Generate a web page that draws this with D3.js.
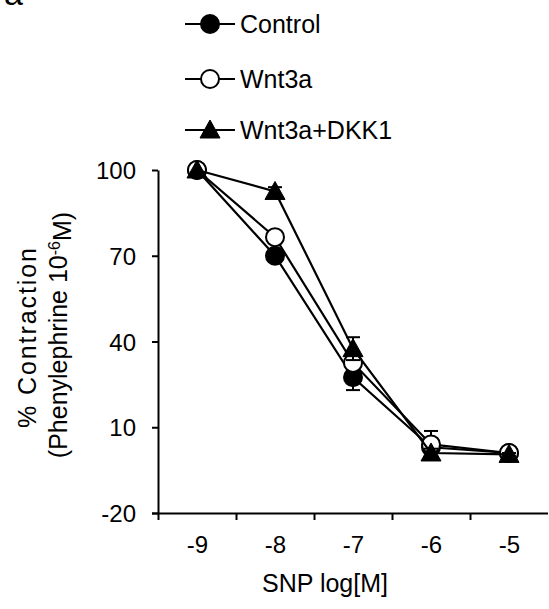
<!DOCTYPE html>
<html>
<head>
<meta charset="utf-8">
<script src="https://cdn.jsdelivr.net/npm/d3@7"></script>
<style>
  body { margin: 0; background: #fff; }
  text { font-family: Arial, "Liberation Sans", sans-serif; fill: #000; }
</style>
</head>
<body>
<div id="chart"></div>
<script>
// data
const doses = [-9, -8, -7, -6, -5];
const yTicks = [-20, 10, 40, 70, 100];
const seriesNames = ["Control", "Wnt3a", "Wnt3a+DKK1"];
const controlVals = [100, 70, 27.5, 3, 1];
const controlErr = [0, 1.5, 4.5, 2, 0.5];
const wntVals = [100, 76.5, 32.5, 4, 1];
const wntErr = [0, 1.5, 3, 4.7, 0.5];
const dkkVals = [100, 92.5, 37.5, 1, 0.5];
const dkkErr = [0, 1.5, 4, 1.5, 0.5];

const width = 549, height = 609;

let svg = d3.select("#chart")
    .append("svg")
    .attr("width", width)
    .attr("height", height);

let x = d3.scaleLinear().domain([-9.5, -4.5]).range([158, 548]);
let y = d3.scaleLinear().domain([-20, 100]).range([513, 170]);

// plain hyphen for negatives, like the original figure
let plain = d => String(d);

// y axis
let yAxis = svg.append("g")
    .attr("transform", "translate(158,0)")
    .call(d3.axisLeft(y).tickValues(yTicks).tickSize(6).tickSizeOuter(0).tickPadding(16).tickFormat(plain));
yAxis.select(".domain").attr("stroke-width", 2);
yAxis.selectAll(".tick line").attr("stroke-width", 2);
yAxis.selectAll("text").style("font-size", "24px").attr("dy", "0.36em");

// x axis: ticks between the dose groups, labels at the doses
let xAxis = svg.append("g")
    .attr("transform", "translate(0,513)")
    .call(d3.axisBottom(x).tickValues(doses.map(d => d - 0.5)).tickSize(7).tickSizeOuter(0).tickFormat(""));
xAxis.select(".domain").attr("d", "M152,0.5H548").attr("stroke-width", 2);
xAxis.selectAll(".tick line").attr("stroke-width", 2);

let xLabels = svg.append("g")
    .attr("transform", "translate(0,513)")
    .call(d3.axisBottom(x).tickValues(doses).tickSize(0).tickPadding(23).tickFormat(plain));
xLabels.select(".domain").remove();
xLabels.selectAll("text").style("font-size", "24px");

// axis titles
svg.append("text")
    .attr("x", 325).attr("y", 592)
    .style("text-anchor", "middle")
    .style("font-size", "25px")
    .text("SNP log[M]");

svg.append("text")
    .attr("transform", "translate(36,338) rotate(-90)")
    .style("text-anchor", "middle")
    .style("font-size", "25px")
    .attr("textLength", 180)
    .attr("lengthAdjust", "spacing")
    .text("% Contraction");

let t2 = svg.append("text")
    .attr("transform", "translate(67,335) rotate(-90)")
    .style("text-anchor", "middle")
    .style("font-size", "25px");
t2.append("tspan").text("(Phenylephrine 10");
t2.append("tspan").attr("dy", "-0.45em").style("font-size", "16px").text("-6");
t2.append("tspan").attr("dy", "0.45em").text("M)");

// panel letter, cut at the top edge as in the original
svg.append("text")
    .attr("x", 4).attr("y", 5)
    .style("font-size", "34px")
    .text("a");

let series = [
  {name: seriesNames[0], vals: controlVals, err: controlErr, shape: "circle", fill: "#000"},
  {name: seriesNames[1], vals: wntVals, err: wntErr, shape: "circle", fill: "#fff"},
  {name: seriesNames[2], vals: dkkVals, err: dkkErr, shape: "triangle", fill: "#000"}
];

let line = d3.line().x((d, i) => x(doses[i])).y(d => y(d));

function drawMarker(g, s) {
  if (s.shape === "circle") {
    g.append("circle").attr("r", 9)
      .attr("fill", s.fill).attr("stroke", "#000").attr("stroke-width", 2);
  } else {
    g.append("path").attr("d", "M0,-10L10,8L-10,8Z")
      .attr("fill", "#000").attr("stroke", "#000").attr("stroke-width", 1);
  }
}

series.forEach(s => {
  let g = svg.append("g");
  // error bars
  s.vals.forEach((v, i) => {
    if (s.err[i] <= 0) return;
    let cx = x(doses[i]);
    g.append("line").attr("x1", cx).attr("x2", cx)
      .attr("y1", y(v - s.err[i])).attr("y2", y(v + s.err[i]))
      .attr("stroke", "#000").attr("stroke-width", 2);
    [v - s.err[i], v + s.err[i]].forEach(e => {
      g.append("line").attr("x1", cx - 7).attr("x2", cx + 7)
        .attr("y1", y(e)).attr("y2", y(e))
        .attr("stroke", "#000").attr("stroke-width", 2);
    });
  });
  g.append("path").datum(s.vals)
    .attr("d", line)
    .attr("fill", "none").attr("stroke", "#000").attr("stroke-width", 2.2);
  s.vals.forEach((v, i) => {
    let m = g.append("g").attr("transform", `translate(${x(doses[i])},${y(v)})`);
    drawMarker(m, s);
  });
});

// legend
let legendY = [24, 79, 130];
series.forEach((s, i) => {
  let lg = svg.append("g").attr("transform", `translate(185,${legendY[i]})`);
  lg.append("line").attr("x1", 0).attr("x2", 50)
    .attr("stroke", "#000").attr("stroke-width", 2);
  let m = lg.append("g").attr("transform", "translate(25,0)");
  drawMarker(m, s);
  lg.append("text").attr("x", 55).attr("y", 0).attr("dy", "0.36em")
    .style("font-size", "25px").text(s.name);
});
</script>
</body>
</html>
